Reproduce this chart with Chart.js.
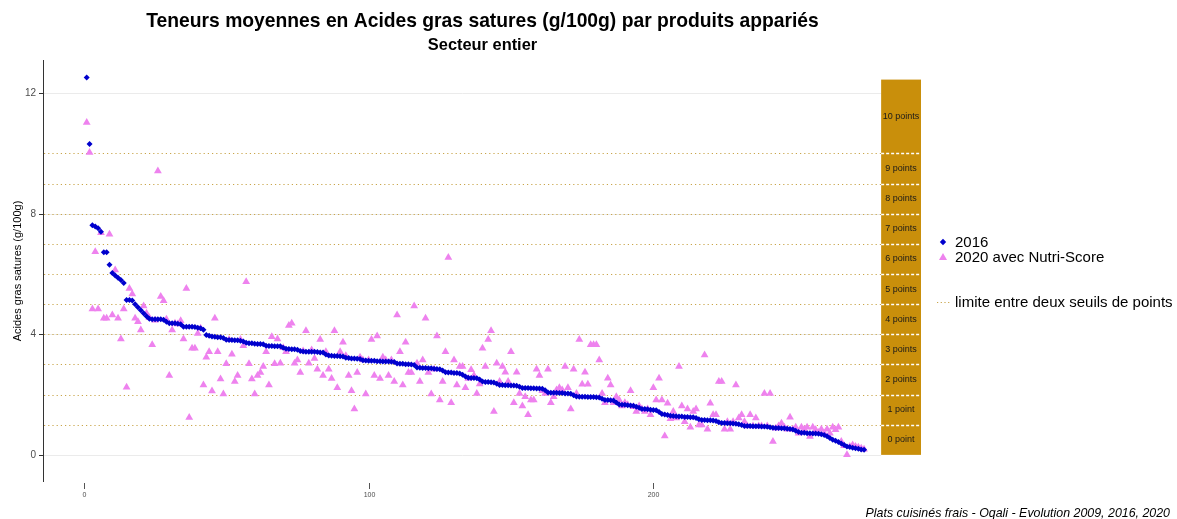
<!DOCTYPE html>
<html>
<head>
<meta charset="utf-8">
<script src="https://cdn.jsdelivr.net/npm/chart.js@4.4.1/dist/chart.umd.min.js"></script>
<style>
  html, body { margin: 0; padding: 0; background: #fff; }
  #wrap { width: 1177px; height: 519px; position: relative; }
</style>
</head>
<body>
<div id="wrap"><canvas id="chart"></canvas></div>
<script>
// teneurs 2016, produits triés par valeur décroissante
const val2016 = [
  12.52, 10.31, 7.62, 7.58, 7.52, 7.4, 6.72, 6.72, 6.31, 6.03,
  5.95, 5.88, 5.8, 5.7, 5.14, 5.14, 5.12, 5.0, 4.9, 4.8,
  4.7, 4.6, 4.52, 4.5, 4.5, 4.5, 4.5, 4.48, 4.42, 4.37,
  4.37, 4.37, 4.35, 4.33, 4.25, 4.25, 4.25, 4.25, 4.24, 4.22,
  4.2, 4.15, 3.98, 3.95, 3.93, 3.92, 3.9, 3.9, 3.88, 3.82,
  3.81, 3.81, 3.8, 3.8, 3.79, 3.76, 3.72, 3.7, 3.7, 3.69,
  3.68, 3.68, 3.67, 3.62, 3.61, 3.61, 3.6, 3.6, 3.6, 3.55,
  3.52, 3.51, 3.5, 3.5, 3.49, 3.45, 3.43, 3.42, 3.42, 3.42,
  3.42, 3.41, 3.4, 3.4, 3.33, 3.3, 3.29, 3.28, 3.28, 3.27,
  3.26, 3.22, 3.21, 3.2, 3.2, 3.19, 3.18, 3.14, 3.13, 3.12,
  3.12, 3.12, 3.11, 3.11, 3.1, 3.1, 3.1, 3.09, 3.08, 3.03,
  3.02, 3.02, 3.01, 3.01, 3.0, 2.98, 2.9, 2.89, 2.88, 2.88,
  2.87, 2.87, 2.86, 2.85, 2.84, 2.8, 2.74, 2.73, 2.73, 2.72,
  2.72, 2.7, 2.66, 2.6, 2.56, 2.55, 2.55, 2.54, 2.5, 2.43,
  2.42, 2.42, 2.41, 2.4, 2.36, 2.32, 2.32, 2.31, 2.31, 2.3,
  2.3, 2.29, 2.26, 2.22, 2.22, 2.22, 2.21, 2.21, 2.2, 2.2,
  2.19, 2.14, 2.07, 2.06, 2.06, 2.06, 2.05, 2.05, 2.04, 2.04,
  2.03, 1.98, 1.94, 1.93, 1.93, 1.93, 1.92, 1.92, 1.92, 1.91,
  1.9, 1.86, 1.82, 1.82, 1.81, 1.8, 1.74, 1.67, 1.66, 1.66,
  1.65, 1.64, 1.63, 1.6, 1.56, 1.52, 1.52, 1.51, 1.5, 1.49,
  1.48, 1.42, 1.36, 1.34, 1.32, 1.3, 1.29, 1.28, 1.27, 1.27,
  1.26, 1.26, 1.25, 1.25, 1.22, 1.18, 1.16, 1.16, 1.15, 1.15,
  1.14, 1.12, 1.08, 1.06, 1.06, 1.05, 1.05, 1.04, 1.03, 1.02,
  0.99, 0.96, 0.96, 0.96, 0.95, 0.95, 0.95, 0.94, 0.94, 0.93,
  0.92, 0.9, 0.89, 0.89, 0.88, 0.88, 0.87, 0.86, 0.84, 0.8,
  0.76, 0.73, 0.73, 0.72, 0.72, 0.71, 0.71, 0.7, 0.68, 0.66,
  0.62, 0.56, 0.5, 0.47, 0.43, 0.38, 0.33, 0.28, 0.26, 0.24,
  0.22, 0.2, 0.18, 0.17
];

// teneurs 2020 des mêmes produits (même ordre)
const val2020 = [
  11.03, 10.03, 4.84, 6.74, 4.84, 7.37, 4.53, 4.53, 7.32, 4.64,
  6.13, 4.53, 3.84, 4.84, 2.24, 5.52, 5.34, 4.53, 4.42, 4.14,
  4.94, 4.7, 4.55, 3.65, 4.47, 9.42, 5.25, 5.11, 4.5, 2.63,
  4.14, 4.37, 4.34, 4.45, 3.84, 5.52, 1.24, 3.54, 3.54, 4.03,
  4.2, 2.32, 3.24, 3.42, 2.12, 4.53, 3.42, 2.52, 2.02, 3.02,
  3.83, 3.34, 2.43, 2.63, 3.83, 3.62, 5.74, 3.02, 2.52, 2.02,
  2.63, 2.73, 2.93, 3.42, 2.32, 3.92, 3.02, 3.84, 3.04, 3.55,
  3.42, 4.29, 4.37, 3.04, 3.15, 2.73, 3.45, 4.12, 3.04, 3.48,
  3.2, 2.84, 3.83, 2.63, 3.42, 2.84, 2.53, 4.12, 2.23, 3.42,
  3.74, 3.29, 2.63, 2.13, 1.52, 2.73, 3.24, 3.15, 2.02, 3.15,
  3.83, 2.63, 3.94, 2.53, 3.24, 3.15, 2.63, 3.15, 2.43, 4.64,
  3.42, 2.32, 3.74, 2.73, 2.73, 4.94, 3.04, 2.43, 3.15, 4.53,
  2.73, 2.02, 2.84, 3.94, 1.82, 2.43, 3.42, 6.55, 1.73, 3.15,
  2.32, 2.93, 2.93, 2.23, 2.53, 2.82, 2.63, 2.04, 2.35, 3.54,
  2.93, 3.83, 4.12, 1.44, 3.04, 2.43, 2.93, 2.74, 2.43, 3.42,
  1.73, 2.74, 2.04, 1.62, 1.93, 1.33, 1.82, 1.82, 2.84, 2.63,
  2.13, 2.04, 2.84, 1.73, 1.93, 2.15, 2.23, 2.15, 2.93, 2.23,
  1.52, 2.84, 2.04, 3.83, 2.34, 2.74, 2.34, 3.65, 3.65, 3.65,
  3.15, 2.04, 1.73, 2.54, 2.32, 1.73, 1.93, 1.82, 1.62, 1.73,
  1.66, 2.13, 1.6, 1.44, 1.62, 1.52, 1.44, 1.52, 1.33, 2.23,
  1.82, 2.54, 1.82, 0.63, 1.71, 1.2, 1.44, 1.22, 2.93, 1.62,
  1.1, 1.52, 0.92, 1.44, 1.52, 0.99, 0.99, 3.31, 0.85, 1.71,
  1.33, 1.33, 2.43, 2.43, 0.85, 1.1, 0.85, 1.1, 2.32, 1.22,
  1.33, 1.1, 0.96, 1.33, 0.96, 1.22, 0.96, 0.96, 2.04, 0.96,
  2.04, 0.44, 0.88, 0.96, 1.05, 0.92, 0.85, 1.25, 0.85, 0.92,
  0.72, 0.92, 0.85, 0.92, 0.61, 0.92, 0.83, 0.74, 0.85, 0.72,
  0.85, 0.72, 0.92, 0.83, 0.92, 0.44, 0.3, 0.0, 0.28, 0.33,
  0.28, 0.25, 0.22, 0.19
];

const xTicks = [0, 100, 200];
const yTicks = [0, 4, 8, 12];
// seuils Nutri-Score (points) pour les acides gras saturés
const seuils = [1, 2, 3, 4, 5, 6, 7, 8, 9, 10];
const bandLabels = ['0 point', '1 point', '2 points', '3 points', '4 points', '5 points',
  '6 points', '7 points', '8 points', '9 points', '10 points'];
const bandTop = 12.45;

const series = [
  { label: '2016', values: val2016, color: '#0000cd', style: 'rectRot', radius: 3 },
  { label: '2020 avec Nutri-Score', values: val2020, color: '#ee82ee', style: 'triangle', radius: 4.5 }
];

const FONT = '"Liberation Sans", Arial, sans-serif';

// axes, grille, lignes de seuil et bande des points
const decorPlugin = {
  id: 'decor',
  beforeDatasetsDraw(chart) {
    const { ctx, chartArea: a, scales: { x, y } } = chart;
    const bx0 = x.getPixelForValue(280), bx1 = x.getPixelForValue(294);
    ctx.save();
    // grille horizontale
    ctx.strokeStyle = '#ebebeb';
    ctx.lineWidth = 1;
    yTicks.forEach(v => {
      const py = Math.round(y.getPixelForValue(v)) + 0.5;
      ctx.beginPath(); ctx.moveTo(a.left, py); ctx.lineTo(bx0, py); ctx.stroke();
    });
    // lignes de seuil pointillées
    ctx.strokeStyle = '#c9a54a';
    ctx.lineWidth = 1.2;
    ctx.setLineDash([1.2, 3]);
    seuils.forEach(v => {
      const py = Math.round(y.getPixelForValue(v)) + 0.5;
      ctx.beginPath(); ctx.moveTo(a.left, py); ctx.lineTo(bx0, py); ctx.stroke();
    });
    ctx.setLineDash([]);
    // bande des points
    const yb = y.getPixelForValue(0), yt = y.getPixelForValue(bandTop);
    ctx.fillStyle = '#c98f0b';
    ctx.fillRect(bx0, yt, bx1 - bx0, yb - yt);
    ctx.strokeStyle = '#ffffff';
    ctx.lineWidth = 1.5;
    ctx.setLineDash([3, 2]);
    seuils.forEach(v => {
      const py = Math.round(y.getPixelForValue(v)) + 0.5;
      ctx.beginPath(); ctx.moveTo(bx0, py); ctx.lineTo(bx1, py); ctx.stroke();
    });
    ctx.setLineDash([]);
    ctx.fillStyle = '#1a1a1a';
    ctx.font = '9px ' + FONT;
    ctx.textAlign = 'center';
    ctx.textBaseline = 'middle';
    bandLabels.forEach((t, i) => {
      const lo = i, hi = i === 10 ? bandTop : i + 1;
      ctx.fillText(t, (bx0 + bx1) / 2, y.getPixelForValue((lo + hi) / 2));
    });
    // axe Y
    ctx.strokeStyle = '#333';
    ctx.lineWidth = 1;
    ctx.beginPath(); ctx.moveTo(a.left - 0.5, a.top); ctx.lineTo(a.left - 0.5, a.bottom); ctx.stroke();
    ctx.fillStyle = '#4d4d4d';
    ctx.font = '10px ' + FONT;
    ctx.textAlign = 'right';
    yTicks.forEach(v => {
      const py = Math.round(y.getPixelForValue(v)) + 0.5;
      ctx.beginPath(); ctx.moveTo(a.left - 5, py); ctx.lineTo(a.left - 0.5, py); ctx.stroke();
      ctx.fillText(String(v), a.left - 8, py);
    });
    // axe X (graduations seules)
    ctx.strokeStyle = '#555';
    ctx.font = '7px ' + FONT;
    ctx.textAlign = 'center';
    ctx.textBaseline = 'top';
    xTicks.forEach(v => {
      const px = Math.round(x.getPixelForValue(v)) + 0.5;
      ctx.beginPath(); ctx.moveTo(px, a.bottom + 1); ctx.lineTo(px, a.bottom + 7); ctx.stroke();
      ctx.fillText(String(v), px, a.bottom + 10);
    });
    ctx.restore();
  },
  afterDraw(chart) {
    const { ctx, chartArea: a } = chart;
    const cx = (a.left + a.right) / 2;
    ctx.save();
    ctx.fillStyle = '#000';
    ctx.textAlign = 'center';
    ctx.textBaseline = 'middle';
    ctx.font = 'bold 19.3px ' + FONT;
    ctx.fillText('Teneurs moyennes en Acides gras satures (g/100g) par produits appariés', cx, 22);
    ctx.font = 'bold 16.4px ' + FONT;
    ctx.fillText('Secteur entier', cx, 45);
    // titre axe Y
    ctx.save();
    ctx.translate(18, chart.scales.y.getPixelForValue(6.1));
    ctx.rotate(-Math.PI / 2);
    ctx.font = '11px ' + FONT;
    ctx.fillText('Acides gras satures (g/100g)', 0, 0);
    ctx.restore();
    // légende
    ctx.textAlign = 'left';
    ctx.font = '15px ' + FONT;
    const lx = 943;
    const rows = [242, 257];
    series.forEach((s, i) => {
      const py = rows[i];
      ctx.fillStyle = s.color;
      ctx.beginPath();
      if (s.style === 'rectRot') {
        ctx.moveTo(lx, py - 3.2); ctx.lineTo(lx + 3.2, py); ctx.lineTo(lx, py + 3.2); ctx.lineTo(lx - 3.2, py);
      } else {
        ctx.moveTo(lx, py - 4); ctx.lineTo(lx + 4, py + 3); ctx.lineTo(lx - 4, py + 3);
      }
      ctx.closePath(); ctx.fill();
      ctx.fillStyle = '#000';
      ctx.fillText(s.label, 955, py + 1);
    });
    ctx.strokeStyle = '#c9a54a';
    ctx.lineWidth = 1.2;
    ctx.setLineDash([1.2, 2.5]);
    ctx.beginPath(); ctx.moveTo(937, 302.5); ctx.lineTo(950, 302.5); ctx.stroke();
    ctx.setLineDash([]);
    ctx.fillStyle = '#000';
    ctx.fillText('limite entre deux seuils de points', 955, 303);
    // source
    ctx.textAlign = 'right';
    ctx.font = 'italic 12.4px ' + FONT;
    ctx.fillText('Plats cuisinés frais - Oqali - Evolution 2009, 2016, 2020', 1170, 514);
    ctx.restore();
  }
};

const datasets = series.map(s => ({
  label: s.label,
  data: s.values.map((v, i) => ({ x: i + 1, y: v })),
  pointStyle: s.style,
  pointRadius: s.radius,
  pointBackgroundColor: s.color,
  pointBorderColor: s.color,
  pointBorderWidth: 0,
  showLine: false
}));
// les losanges 2016 par-dessus les triangles 2020
datasets[0].order = 0;
datasets[1].order = 1;

new Chart(document.getElementById('chart'), {
  type: 'scatter',
  data: { datasets },
  options: {
    responsive: true,
    maintainAspectRatio: false,
    animation: false,
    layout: { padding: { left: 44, right: 256, top: 60, bottom: 37 } },
    plugins: { legend: { display: false }, title: { display: false }, tooltip: { enabled: false } },
    scales: {
      x: { type: 'linear', min: -14, max: 294, display: false },
      y: { type: 'linear', min: -0.9, max: 13.1, display: false }
    }
  },
  plugins: [decorPlugin]
});
</script>
</body>
</html>
